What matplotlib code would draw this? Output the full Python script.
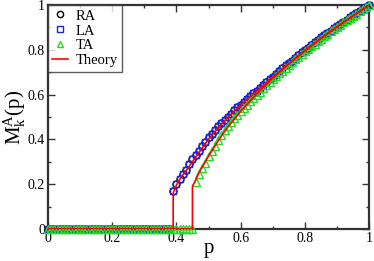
import matplotlib
matplotlib.use("Agg")
import matplotlib.pyplot as plt
from matplotlib.ticker import MultipleLocator

plt.rcParams["font.family"] = ["Liberation Serif", "DejaVu Serif"]
plt.rcParams["mathtext.fontset"] = "custom"
plt.rcParams["mathtext.rm"] = "Liberation Serif"
plt.rcParams["mathtext.it"] = "Liberation Serif"

# zero-branch sample points (p = 0.00 ... 0.38 for RA/LA, 0.00 ... 0.45 for TA)
p_zero_ra = [i / 100 for i in range(0, 39)]
p_zero_ta = [i / 100 for i in range(0, 46)]

# ordered branch RA / LA
p_ra = [0.39, 0.40, 0.41, 0.42, 0.43, 0.44, 0.45, 0.46, 0.47, 0.48, 0.49, 0.50,
        0.51, 0.52, 0.53, 0.54, 0.55, 0.56, 0.57, 0.58, 0.59, 0.60, 0.61, 0.62,
        0.63, 0.64, 0.65, 0.66, 0.67, 0.68, 0.69, 0.70, 0.71, 0.72, 0.73, 0.74,
        0.75, 0.76, 0.77, 0.78, 0.79, 0.80, 0.81, 0.82, 0.83, 0.84, 0.85, 0.86,
        0.87, 0.88, 0.89, 0.90, 0.91, 0.92, 0.93, 0.94, 0.95, 0.96, 0.97, 0.98,
        0.99, 1.00]
m_ra = [0.17, 0.20, 0.225, 0.245, 0.265, 0.29, 0.31, 0.33, 0.35, 0.37, 0.39, 0.41,
        0.425, 0.44, 0.458, 0.475, 0.488, 0.50, 0.515, 0.53, 0.543, 0.555, 0.568, 0.58,
        0.593, 0.605, 0.618, 0.63, 0.643, 0.655, 0.668, 0.68, 0.693, 0.705, 0.718, 0.73,
        0.74, 0.75, 0.763, 0.775, 0.788, 0.80, 0.81, 0.82, 0.833, 0.845, 0.855, 0.865,
        0.875, 0.885, 0.895, 0.905, 0.915, 0.925, 0.935, 0.945, 0.955, 0.965, 0.973, 0.98,
        0.99, 1.00]
m_la = m_ra

# ordered branch TA
p_ta = [0.46, 0.47, 0.48, 0.49, 0.50, 0.51, 0.52, 0.53, 0.54, 0.55, 0.56, 0.57,
        0.58, 0.59, 0.60, 0.61, 0.62, 0.63, 0.64, 0.65, 0.66, 0.67, 0.68, 0.69,
        0.70, 0.71, 0.72, 0.73, 0.74, 0.75, 0.76, 0.77, 0.78, 0.79, 0.80, 0.81,
        0.82, 0.83, 0.84, 0.85, 0.86, 0.87, 0.88, 0.89, 0.90, 0.91, 0.92, 0.93,
        0.94, 0.95, 0.96, 0.97, 0.98, 0.99, 1.00]
m_ta = [0.21, 0.245, 0.27, 0.295, 0.325, 0.35, 0.37, 0.395, 0.42, 0.44, 0.46, 0.478,
        0.495, 0.51, 0.525, 0.54, 0.555, 0.57, 0.585, 0.598, 0.612, 0.627, 0.641, 0.655,
        0.668, 0.681, 0.694, 0.707, 0.72, 0.732, 0.745, 0.757, 0.769, 0.781, 0.793, 0.804,
        0.815, 0.827, 0.838, 0.85, 0.861, 0.872, 0.882, 0.892, 0.902, 0.912, 0.922, 0.932,
        0.942, 0.952, 0.961, 0.971, 0.98, 0.99, 1.00]

# theory curves
p_th_ra = [0.0, 0.39, 0.39, 0.40, 0.41, 0.42, 0.44, 0.46, 0.48, 0.50, 0.54, 0.58,
           0.62, 0.66, 0.70, 0.75, 0.80, 0.85, 0.90, 0.95, 1.0]
m_th_ra = [0.0, 0.0, 0.16, 0.195, 0.22, 0.24, 0.28, 0.32, 0.36, 0.40, 0.467, 0.525,
           0.578, 0.628, 0.678, 0.738, 0.797, 0.852, 0.903, 0.952, 1.0]
p_th_ta = [0.0, 0.45, 0.45, 0.46, 0.47, 0.48, 0.50, 0.52, 0.54, 0.56, 0.60, 0.65,
           0.70, 0.75, 0.80, 0.85, 0.90, 0.95, 1.0]
m_th_ta = [0.0, 0.0, 0.19, 0.218, 0.25, 0.275, 0.325, 0.37, 0.415, 0.455, 0.525, 0.603,
           0.673, 0.737, 0.795, 0.85, 0.902, 0.951, 1.0]

fig = plt.figure(figsize=(3.74, 2.61), dpi=100)
ax = fig.add_axes([0.128, 0.123, 0.859, 0.858])

ax.plot(p_zero_ra + p_ra, [0.0] * len(p_zero_ra) + m_ra, "o", ms=5, mfc="none",
        mec="black", mew=1.0, clip_on=False, label="RA", zorder=3)
ax.plot(p_zero_ra + p_ra, [0.0] * len(p_zero_ra) + m_la, "s", ms=4.5, mfc="none",
        mec="#2020e0", mew=1.0, clip_on=False, label="LA", zorder=3)
ax.plot(p_zero_ta + p_ta, [0.0] * len(p_zero_ta) + m_ta, "^", ms=5.5, mfc="none",
        mec="#22dd22", mew=1.0, clip_on=False, label="TA", zorder=3)
ax.plot(p_th_ra, m_th_ra, "-", color="red", lw=1.2, label="Theory", zorder=4)
ax.plot(p_th_ta, m_th_ta, "-", color="red", lw=1.2, zorder=4)

ax.set_xlim(0, 1)
ax.set_ylim(0, 1)
ax.set_xticks([0, 0.2, 0.4, 0.6, 0.8, 1.0])
ax.set_xticklabels(["0", "0.2", "0.4", "0.6", "0.8", "1"])
ax.set_yticks([0, 0.2, 0.4, 0.6, 0.8, 1.0])
ax.set_yticklabels(["0", "0.2", "0.4", "0.6", "0.8", "1"])
ax.xaxis.set_minor_locator(MultipleLocator(0.1))
ax.yaxis.set_minor_locator(MultipleLocator(0.1))
ax.tick_params(which="both", direction="in", top=True, right=True, labelsize=10,
               color="#333333", width=1.0)
ax.tick_params(which="major", length=5, pad=2)
ax.tick_params(which="minor", length=2.5)
for s in ax.spines.values():
    s.set_linewidth(1.6)
    s.set_color("#333333")

ax.set_xlabel("p", fontsize=15, labelpad=-4)
ax.set_ylabel(r"M$_\mathrm{k}^\mathrm{A}$(p)", fontsize=15, labelpad=0)

leg = ax.legend(loc="upper left", fontsize=10.5, frameon=True, fancybox=False,
                borderaxespad=0, handlelength=1.1, handletextpad=0.5,
                borderpad=0.3, labelspacing=0.12, markerscale=0.9)
leg.get_frame().set_edgecolor("#333333")
leg.get_frame().set_linewidth(1.0)

fig.savefig("out.png", dpi=100)
